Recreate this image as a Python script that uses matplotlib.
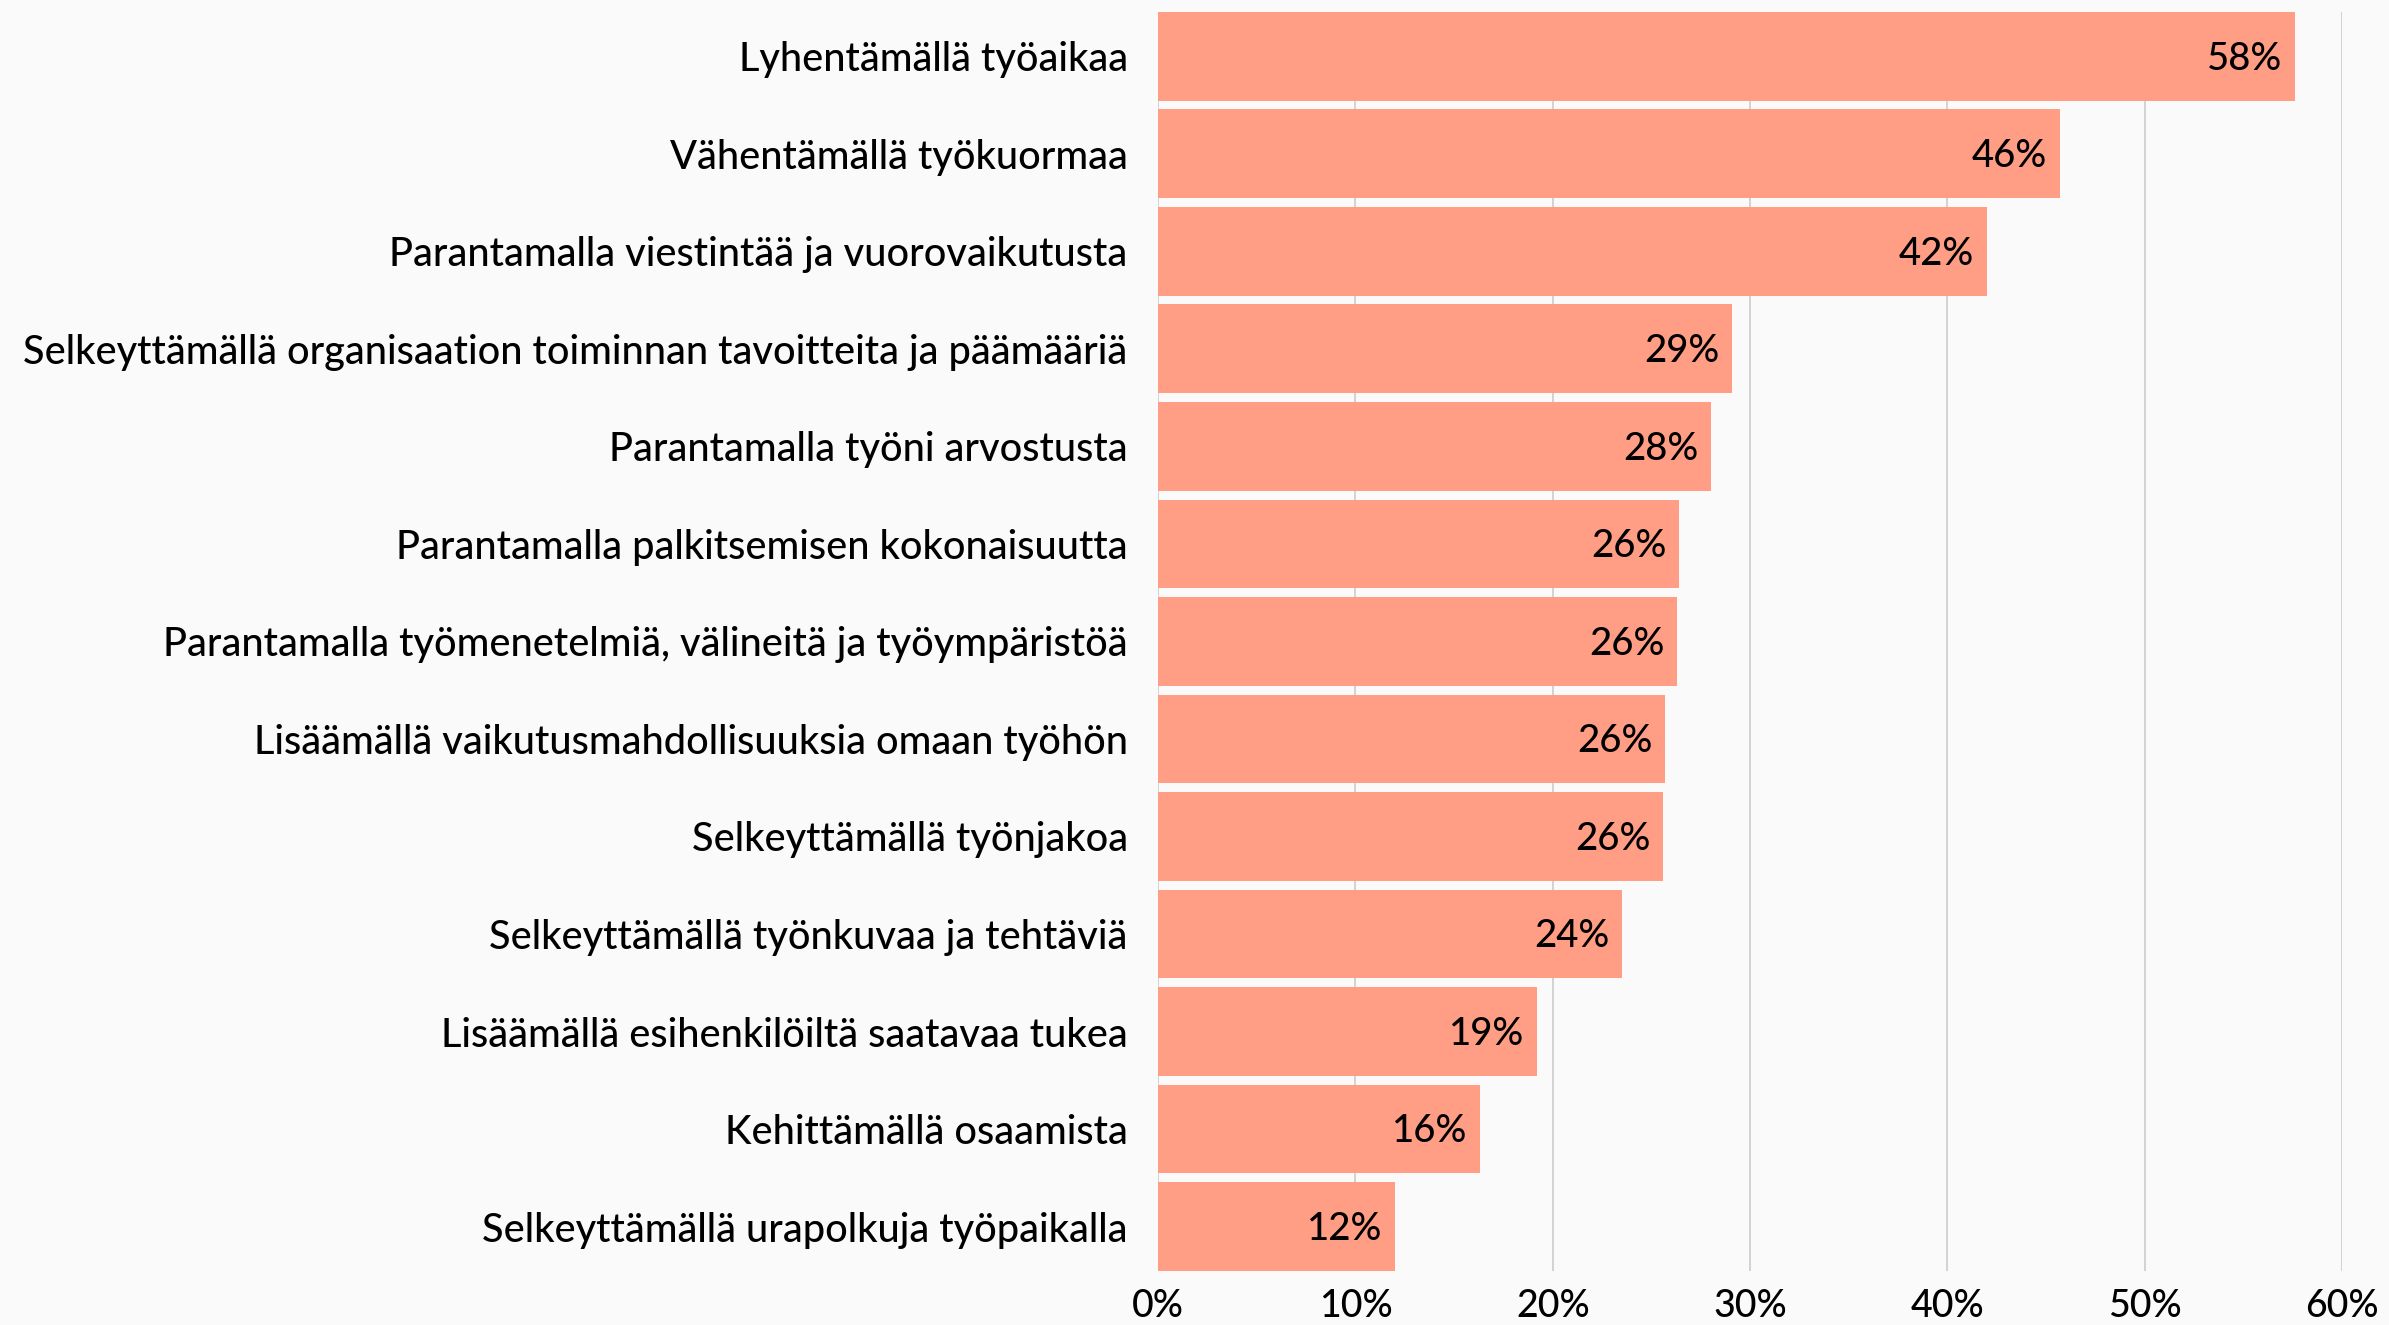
import matplotlib

matplotlib.use("Agg")
import matplotlib.pyplot as plt
from matplotlib.ticker import FuncFormatter

labels = [
    "Lyhentämällä työaikaa",
    "Vähentämällä työkuormaa",
    "Parantamalla viestintää ja vuorovaikutusta",
    "Selkeyttämällä organisaation toiminnan tavoitteita ja päämääriä",
    "Parantamalla työni arvostusta",
    "Parantamalla palkitsemisen kokonaisuutta",
    "Parantamalla työmenetelmiä, välineitä ja työympäristöä",
    "Lisäämällä vaikutusmahdollisuuksia omaan työhön",
    "Selkeyttämällä työnjakoa",
    "Selkeyttämällä työnkuvaa ja tehtäviä",
    "Lisäämällä esihenkilöiltä saatavaa tukea",
    "Kehittämällä osaamista",
    "Selkeyttämällä urapolkuja työpaikalla",
]
values = [57.6, 45.7, 42.0, 29.1, 28.0, 26.4, 26.3, 25.7, 25.6, 23.5, 19.2, 16.3, 12.0]
xticks = [0, 10, 20, 30, 40, 50, 60]

BG = "#fafafa"
BAR = "#ff9e85"
FONT = ["Lato", "DejaVu Sans"]

plt.rcParams["font.family"] = FONT
plt.rcParams["font.weight"] = "medium"

fig = plt.figure(figsize=(23.89, 13.25), dpi=100, facecolor=BG)
ax = fig.add_axes([0.4848, 0.0408, 0.4955, 0.9502], facecolor=BG)

ypos = list(range(len(labels)))
bh = 0.91
ax.barh(ypos, values, height=bh, color=BAR, zorder=2)

# value labels right-aligned inside each bar end
for y, v in zip(ypos, values):
    ax.annotate(f"{round(v)}%", xy=(v, y), xytext=(-9, -2), textcoords="offset points",
                ha="right", va="center", fontsize=27.5, color="black", zorder=3)

ax.set_yticks(ypos)
ax.set_yticklabels(labels, fontsize=28.5)
ax.set_ylim(len(labels) - 1 + bh / 2, -bh / 2)
ax.set_xlim(0, 60)
ax.set_xticks(xticks)
ax.xaxis.set_major_formatter(FuncFormatter(lambda x, _: f"{x:.0f}%"))
ax.tick_params(axis="x", labelsize=27, length=0, pad=13)
ax.tick_params(axis="y", length=0, pad=22)
ax.grid(axis="x", color="#cccccc", linewidth=1.2, zorder=1)
ax.grid(axis="y", visible=False)
for s in ax.spines.values():
    s.set_visible(False)

fig.savefig("out.png", dpi=100, facecolor=BG)
